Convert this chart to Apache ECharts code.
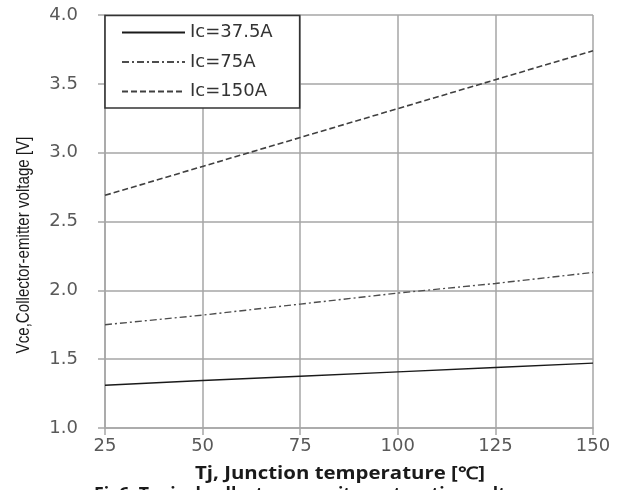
<!DOCTYPE html>
<html>
<head>
<meta charset="utf-8">
<script src="https://cdn.jsdelivr.net/npm/echarts@6/dist/echarts.min.js"></script>
<style>
  html, body { margin: 0; padding: 0; background: #fff; }
  #chart { width: 621px; height: 490px; }
</style>
</head>
<body>
<div id="chart"></div>
<script>
// Junction temperature (°C)
const temps = [25, 50, 75, 100, 125, 150];
// Collector-emitter saturation voltage (V) per collector current
const vce37 = [1.31, 1.345, 1.376, 1.408, 1.44, 1.471];
const vce75 = [1.75, 1.82, 1.90, 1.98, 2.05, 2.13];
const vce150 = [2.69, 2.90, 3.11, 3.32, 3.53, 3.74];
const seriesNames = ['Ic=37.5A', 'Ic=75A', 'Ic=150A'];
const xTitle = 'Tj, Junction temperature [\u2103]';
const yTitle = 'Vce,Collector-emitter voltage [V]';
const caption = 'Fig6. Typical collector- emmiter saturation voltage as a';

const pair = vals => temps.map((t, i) => [t, vals[i]]);

const chart = echarts.init(document.getElementById('chart'), null, { renderer: 'canvas' });
const gridColor = '#a6a6a6';
const tickFont = { fontFamily: 'DejaVu Sans', fontSize: 18, color: '#595959' };
const titleFont = { fontFamily: 'Open Sans', fontWeight: 'bold', fontSize: 17, fill: '#1a1a1a' };

chart.setOption({
  animation: false,
  backgroundColor: '#fff',
  grid: { left: 105, right: 28, top: 15, bottom: 62 },
  xAxis: {
    type: 'value', min: 25, max: 150, interval: 25,
    axisLine: { show: true, lineStyle: { color: gridColor, width: 1.5 } },
    axisTick: { show: true, length: 7, lineStyle: { color: gridColor, width: 1.5 } },
    splitLine: { show: true, lineStyle: { color: gridColor, width: 1.5 } },
    axisLabel: Object.assign({ margin: 9 }, tickFont)
  },
  yAxis: {
    type: 'value', min: 1.0, max: 4.0, interval: 0.5,
    axisLine: { show: true, lineStyle: { color: gridColor, width: 1.5 } },
    axisTick: { show: true, length: 7, lineStyle: { color: gridColor, width: 1.5 } },
    splitLine: { show: true, lineStyle: { color: gridColor, width: 1.5 } },
    axisLabel: Object.assign({ margin: 27, formatter: v => v.toFixed(1) }, tickFont)
  },
  legend: {
    data: seriesNames,
    orient: 'vertical', left: 105, top: 15.5,
    itemWidth: 63, itemHeight: 18, itemGap: 11.5,
    padding: [8, 27, 7.5, 16],
    itemStyle: { opacity: 0 },
    backgroundColor: '#fff', borderColor: '#333', borderWidth: 1.6,
    textStyle: { fontFamily: 'DejaVu Sans', fontSize: 18, color: '#333', lineHeight: 18 }
  },
  graphic: [
    {
      type: 'text', x: 24, y: 245, rotation: Math.PI / 2, scaleX: 0.84,
      style: { text: yTitle, fontFamily: 'Liberation Sans', fontSize: 18, fill: '#1a1a1a',
               align: 'center', verticalAlign: 'middle' }
    },
    {
      type: 'text', x: 340, y: 474, scaleX: 1.2,
      style: Object.assign({ text: xTitle, align: 'center', verticalAlign: 'middle' }, titleFont)
    },
    {
      type: 'text', x: 94, y: 495, scaleX: 1.04,
      style: Object.assign({ text: caption, align: 'left', verticalAlign: 'middle' }, titleFont)
    }
  ],
  series: [
    {
      name: seriesNames[0], type: 'line', data: pair(vce37), symbol: 'none',
      lineStyle: { color: '#1a1a1a', width: 1.4, type: 'solid' }, itemStyle: { color: '#1a1a1a' }
    },
    {
      name: seriesNames[1], type: 'line', data: pair(vce75), symbol: 'none',
      lineStyle: { color: '#4d4d4d', width: 1.4, type: [7, 3, 2, 3] }, itemStyle: { color: '#4d4d4d' }
    },
    {
      name: seriesNames[2], type: 'line', data: pair(vce150), symbol: 'none',
      lineStyle: { color: '#404040', width: 1.6, type: [6, 3] }, itemStyle: { color: '#404040' }
    }
  ]
});
</script>
</body>
</html>
